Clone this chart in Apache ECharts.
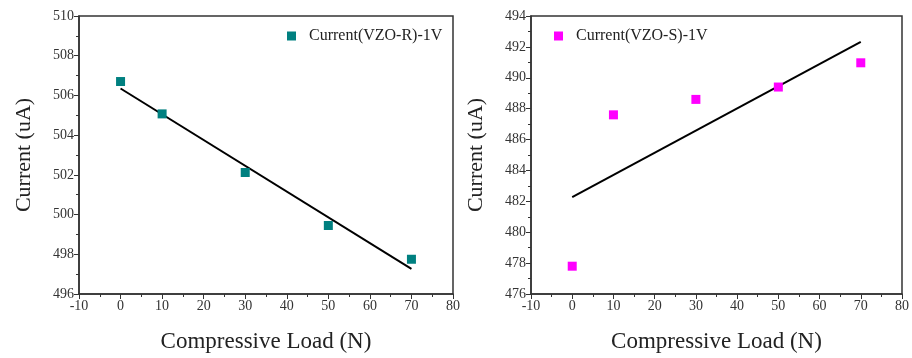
<!DOCTYPE html>
<html><head><meta charset="utf-8">
<script src="https://cdn.jsdelivr.net/npm/echarts@6/dist/echarts.min.js"></script>
<style>html,body{margin:0;padding:0;background:#fff}#c{width:912px;height:358px}</style>
</head><body><div id="c"></div>
<script>
const loads = [0, 10, 30, 50, 70];
const currentR = [506.7, 505.07, 502.12, 499.45, 497.75];
const currentS = [477.8, 487.6, 488.6, 489.4, 490.97];
const fitR = [[0, 506.35], [70, 497.27]];
const fitS = [[0, 482.27], [70, 492.32]];
const nameR = 'Current(VZO-R)-1V';
const nameS = 'Current(VZO-S)-1V';
const xTitle = 'Compressive Load (N)';
const yTitle = 'Current (uA)';

const font = 'Liberation Serif';
const axisCol = '#333';
function xAx(gi) {
  return {
    type: 'value', gridIndex: gi, min: -10, max: 80, interval: 10,
    name: xTitle, nameLocation: 'middle', nameGap: 36,
    nameTextStyle: { fontFamily: font, fontSize: 23, color: '#222' },
    axisLine: { onZero: false, lineStyle: { color: axisCol, width: 1.5 } },
    axisTick: { show: true, inside: false, length: 5, lineStyle: { color: axisCol } },
    minorTick: { show: true, splitNumber: 2, length: 3, lineStyle: { color: axisCol } },
    axisLabel: { fontFamily: font, fontSize: 14, color: '#333', margin: 5 },
    splitLine: { show: false }
  };
}
function yAx(gi, mn, mx) {
  return {
    type: 'value', gridIndex: gi, min: mn, max: mx, interval: 2,
    name: yTitle, nameLocation: 'middle', nameGap: 44,
    nameTextStyle: { fontFamily: font, fontSize: 22, color: '#222' },
    axisLine: { onZero: false, lineStyle: { color: axisCol, width: 1.5 } },
    axisTick: { show: true, inside: false, length: 5, lineStyle: { color: axisCol } },
    minorTick: { show: true, splitNumber: 2, length: 3, lineStyle: { color: axisCol } },
    axisLabel: { fontFamily: font, fontSize: 14, color: '#333', margin: 5 },
    splitLine: { show: false }
  };
}
const chart = echarts.init(document.getElementById('c'), null, { renderer: 'canvas' });
chart.setOption({
  animation: false,
  backgroundColor: '#fff',
  grid: [
    { left: 79, right: 459, top: 16, bottom: 62, show: true, borderColor: axisCol, borderWidth: 1.5, backgroundColor: 'transparent' },
    { left: 531, right: 8, top: 16, bottom: 63, show: true, borderColor: axisCol, borderWidth: 1.5, backgroundColor: 'transparent' }
  ],
  legend: [
    { data: [nameR], left: 282, top: 23, icon: 'rect', itemWidth: 9, itemHeight: 9, itemGap: 5,
      textStyle: { fontFamily: font, fontSize: 16, color: '#222', padding: [0, 0, 0, 8] } },
    { data: [nameS], left: 549, top: 23, icon: 'rect', itemWidth: 9, itemHeight: 9, itemGap: 5,
      textStyle: { fontFamily: font, fontSize: 16, color: '#222', padding: [0, 0, 0, 8] } }
  ],
  xAxis: [xAx(0), xAx(1)],
  yAxis: [yAx(0, 496, 510), yAx(1, 476, 494)],
  series: [
    { name: nameR, type: 'scatter', xAxisIndex: 0, yAxisIndex: 0, symbol: 'rect', symbolSize: 9,
      itemStyle: { color: '#008080', opacity: 1 }, data: loads.map((x, i) => [x, currentR[i]]) },
    { name: nameS, type: 'scatter', xAxisIndex: 1, yAxisIndex: 1, symbol: 'rect', symbolSize: 9,
      itemStyle: { color: '#ff00ff', opacity: 1 }, data: loads.map((x, i) => [x, currentS[i]]) },
    { name: 'fitR', type: 'line', xAxisIndex: 0, yAxisIndex: 0, showSymbol: false, symbol: 'none',
      lineStyle: { color: '#000', width: 2 }, data: fitR, z: 1 },
    { name: 'fitS', type: 'line', xAxisIndex: 1, yAxisIndex: 1, showSymbol: false, symbol: 'none',
      lineStyle: { color: '#000', width: 2 }, data: fitS, z: 1 }
  ]
});
</script></body></html>
